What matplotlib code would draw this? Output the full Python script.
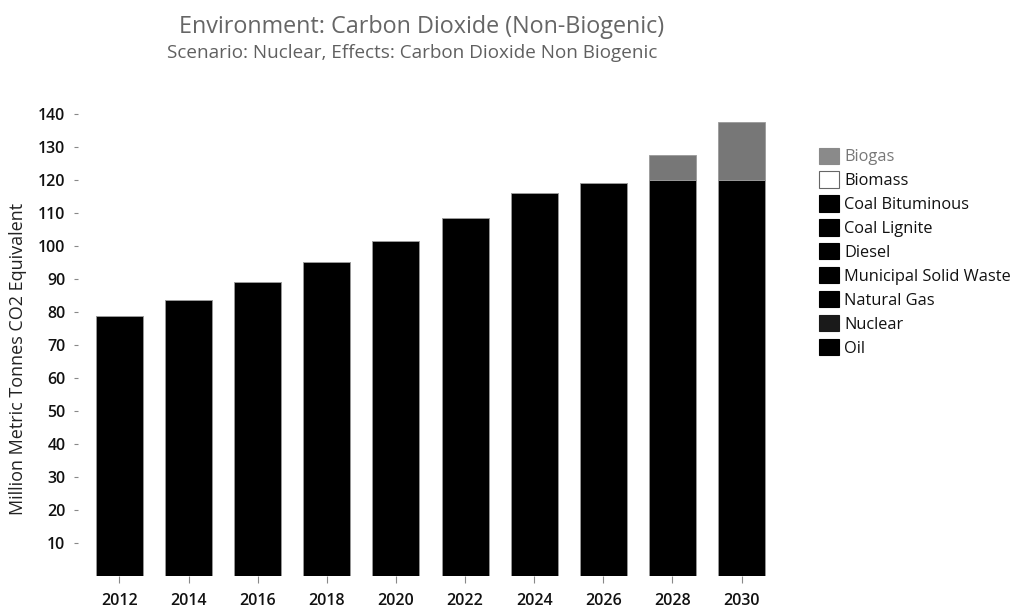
import matplotlib
matplotlib.use("Agg")
import matplotlib.pyplot as plt
from matplotlib.patches import Patch

plt.rcParams['font.family'] = ['Open Sans', 'DejaVu Sans']

years = ['2012', '2014', '2016', '2018', '2020', '2022', '2024', '2026', '2028', '2030']
# Combined fossil/waste emissions (all drawn in black) and biogas on top
fossil = [78.8, 83.6, 89.1, 95.2, 101.5, 108.5, 116.0, 119.1, 120.0, 120.0]
biogas = [0, 0, 0, 0, 0, 0, 0, 0, 7.6, 17.6]

legend_labels = ['Biogas', 'Biomass', 'Coal Bituminous', 'Coal Lignite', 'Diesel',
                 'Municipal Solid Waste', 'Natural Gas', 'Nuclear', 'Oil']
legend_colors = ['#8a8a8a', '#ffffff', '#000000', '#000000', '#000000',
                 '#000000', '#000000', '#1a1a1a', '#000000']

fig = plt.figure(figsize=(10.24, 6.08), dpi=100)
ax = fig.add_axes([78 / 1024, 32 / 608, 705 / 1024, 472 / 608])

x = range(len(years))
ax.bar(x, fossil, width=0.68, color='#000000', edgecolor='#9a9a9a', linewidth=0.6)
ax.bar(x, biogas, width=0.68, bottom=fossil, color='#777777', edgecolor='#9a9a9a', linewidth=0.6)

ax.set_xlim(-0.6, 9.6)
ax.set_ylim(0, 143)
ax.set_yticks(range(10, 141, 10))
ax.set_xticks(list(x))
ax.set_xticklabels(years)
for s in ax.spines.values():
    s.set_visible(False)
ax.tick_params(axis='y', length=3, width=0.8, color='#888888', pad=6,
               labelsize=11.5, labelcolor='#111111')
ax.tick_params(axis='x', length=5, width=0.8, color='#888888', pad=7,
               labelsize=11.5, labelcolor='#111111')
for lbl in ax.get_xticklabels() + ax.get_yticklabels():
    lbl.set_fontweight('semibold')

ax.set_ylabel('Million Metric Tonnes CO2 Equivalent', fontsize=13, color='#222222')
ax.yaxis.set_label_coords(-0.072, 0.46)

fig.text(422 / 1024, 1 - 27 / 608, 'Environment: Carbon Dioxide (Non-Biogenic)',
         ha='center', va='center', fontsize=16.8, color='#666666')
fig.text(412 / 1024, 1 - 53 / 608, 'Scenario: Nuclear, Effects: Carbon Dioxide Non Biogenic',
         ha='center', va='center', fontsize=13.6, color='#606060')

handles = [Patch(facecolor=c, edgecolor='#666666' if c == '#ffffff' else c, linewidth=0.8)
           for c in legend_colors]
leg = fig.legend(handles, legend_labels, loc='upper left',
                 bbox_to_anchor=(812 / 1024, 1 - 141 / 608), frameon=False,
                 fontsize=11.8, handlelength=1.25, handleheight=1.15,
                 handletextpad=0.3, labelspacing=0.38, borderaxespad=0)
for t, lab in zip(leg.get_texts(), legend_labels):
    t.set_color('#777777' if lab in ('Biogas',) else '#111111')

fig.savefig('out.png', dpi=100, facecolor='white')
